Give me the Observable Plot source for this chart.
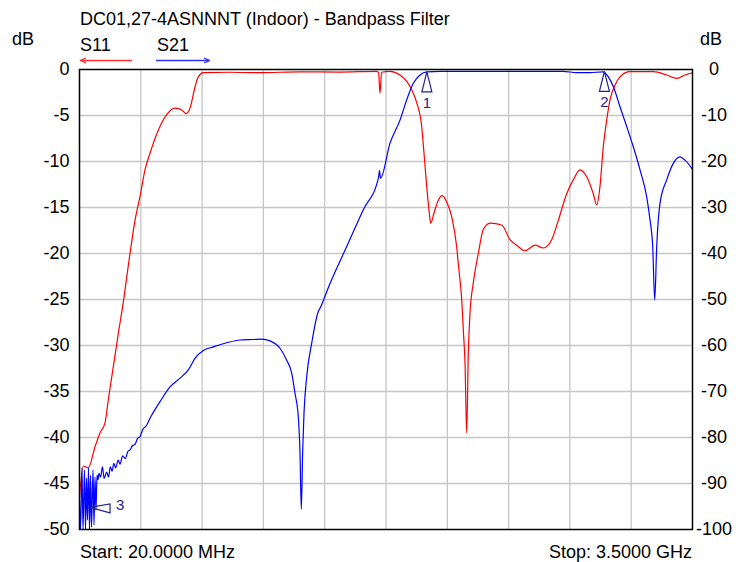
<!DOCTYPE html>
<html><head><meta charset="utf-8">
<script src="https://cdn.jsdelivr.net/npm/d3@7"></script>
<script src="https://cdn.jsdelivr.net/npm/@observablehq/plot@0.6"></script>
<style>html,body{margin:0;padding:0;background:#fff;}</style>
</head><body><div id="chart"></div>
<script>
// S11 (red, left axis, dB) — frequency in MHz
const s11Freq = [20, 41.6, 70, 108, 136.4, 164.8, 183.5, 211.9, 240.3, 267, 306.7, 335.1, 363.5, 391.8, 420.2, 467.3, 515, 562.1, 600.2, 624.6, 647.3, 675.7, 694.4, 722.8, 874.4, 1044.7, 1271.8, 1498.9, 1703.3, 1717.5, 1726, 1734.5, 1782.8, 1839.5, 1877.5, 1905.9, 1934.3, 1962.7, 1975.8, 1991.1, 2005.9, 2013.8, 2032.6, 2056.9, 2079.6, 2104.6, 2133, 2161.4, 2170.4, 2180.1, 2189.8, 2198.8, 2208.5, 2218.1, 2227.2, 2236.8, 2255.6, 2284, 2312.3, 2350.4, 2416.8, 2464, 2502, 2549.1, 2605.9, 2653, 2700.7, 2738.2, 2785.8, 2823.3, 2861.3, 2899.4, 2936.8, 2956.1, 2974.9, 2993.6, 3012.9, 3031.7, 3060.1, 3088.4, 3145.2, 3277.4, 3353.5, 3410.3, 3457.4, 3500];
const s11Db = [-46.5, -43.1, -43.3, -41, -39.5, -38.4, -35.9, -32.3, -28.7, -25.5, -20, -16.4, -13.8, -10.9, -9.1, -6.6, -4.9, -4.2, -4.4, -4.8, -4.2, -1.9, -0.8, -0.35, -0.3, -0.35, -0.25, -0.28, -0.2, -0.3, -2.6, -0.3, -0.2, -0.6, -1.3, -2.2, -3.6, -6.2, -9.1, -12.7, -15.6, -16.7, -15.6, -14.2, -13.7, -14.4, -16, -19.3, -21.1, -22.9, -25, -28.3, -31.9, -39.5, -30.8, -26.5, -23.2, -20, -17.4, -16.7, -16.9, -18.5, -19.1, -19.7, -19.1, -19.4, -18.5, -16.4, -13.5, -12, -10.9, -11.65, -13.5, -14.7, -12.7, -8.4, -5.5, -3.3, -1.7, -0.8, -0.24, -0.24, -0.6, -0.96, -0.6, -0.35];

// S21 (blue, right axis, dB)
const s21Freq = [20, 25.7, 34.2, 39.9, 48.4, 54.1, 59.7, 65.4, 71.1, 76.8, 82.4, 88.1, 96.6, 102.3, 108, 113.7, 119.3, 125, 130.7, 140, 150, 160, 174, 185, 195, 205, 215, 225, 240, 250, 265, 280, 295, 306.7, 320, 335, 350, 363.5, 380, 400, 420.2, 477, 533.8, 590.5, 637.6, 675.7, 722.8, 779.6, 855.7, 931.2, 1006.7, 1054.4, 1101.5, 1158.3, 1196.3, 1224.7, 1243.5, 1262.2, 1271.8, 1279.2, 1287.1, 1294.5, 1309.8, 1338.2, 1375.7, 1385.3, 1442.1, 1536.9, 1631.1, 1717.5, 1723.2, 1728.9, 1782.8, 1839.5, 1877.5, 1915, 1953, 1991.1, 2066.6, 2764.8, 2842.6, 2918, 2993.6, 3022, 3050.4, 3088.4, 3126.5, 3163.9, 3202, 3240, 3258.8, 3274.1, 3285.5, 3296.8, 3315.6, 3353.5, 3391, 3429, 3457.4, 3500];
const s21Db = [-93.6, -100, -86.6, -100, -87.1, -100, -88.8, -97.9, -86.6, -100, -88.2, -99.5, -87.1, -99, -88.6, -95.8, -88.2, -89.2, -87.8, -88.6, -86.4, -88.9, -87.5, -88.6, -86.4, -87.3, -85.6, -86.6, -84.9, -85.8, -84, -84.6, -83, -82.7, -81.8, -81.5, -80.2, -79.8, -78.2, -77.4, -75.8, -72.2, -69, -67.1, -65.3, -62.8, -61.1, -60.3, -59.4, -58.8, -58.7, -58.6, -59, -60.6, -63.2, -66, -70.4, -75.5, -83.4, -95.6, -82.7, -74.7, -66.8, -59.5, -52.6, -51.9, -46.5, -38.5, -30.5, -23.5, -22, -23.6, -16, -11, -6.6, -3, -1.2, -0.5, -0.4, -0.4, -0.7, -0.7, -0.5, -1.6, -3.7, -8.1, -12.4, -16.8, -21.8, -27.7, -32.7, -38.5, -50.1, -38.5, -29.1, -24, -20.4, -19, -19.7, -21.7];

// Markers on S21
const markerFreq = [1992, 3000, 80];
const markerDb = [-0.5, -0.4, -95.2];
const markerLabels = ["1", "2", "3"];

// Axes / grid
const gridFreqs = [368, 716, 1064, 1412, 1760, 2108, 2456, 2804, 3152];
const leftTicks = [0, -5, -10, -15, -20, -25, -30, -35, -40, -45, -50];
const rightTickLabels = ["0", "-10", "-20", "-30", "-40", "-50", "-60", "-70", "-80", "-90", "-100"];

const titleText = "DC01,27-4ASNNNT (Indoor) - Bandpass Filter";
const seriesNames = ["S11", "S21"];
const startText = "Start: 20.0000 MHz";
const stopText = "Stop: 3.5000 GHz";

const FONT = "'Liberation Sans', Arial, sans-serif";
const NAVY = "#23238c";

const s11 = s11Freq.map((f, i) => ({f, db: s11Db[i]}));
const s21 = s21Freq.map((f, i) => ({f, db: s21Db[i] / 2}));
const markers = markerFreq.map((f, i) => ({f, db: markerDb[i] / 2, label: markerLabels[i]}));
const upMarkers = markers.slice(0, 2);
const leftMarkers = markers.slice(2);

const triUp = {draw(ctx) { ctx.moveTo(0, 0); ctx.lineTo(-5, 20); ctx.lineTo(5, 20); ctx.closePath(); }};
const triLeft = {draw(ctx) { ctx.moveTo(0, 0); ctx.lineTo(20, -3.5); ctx.lineTo(20, 5.5); ctx.closePath(); }};

const chart = Plot.plot({
  width: 739, height: 562,
  marginLeft: 79, marginRight: 47, marginTop: 69, marginBottom: 33,
  style: {fontFamily: FONT, fontSize: "18px", color: "#000", background: "#fff", overflow: "visible"},
  x: {type: "linear", domain: [20, 3500], axis: null},
  y: {domain: [-50, 0], axis: null},
  marks: [
    Plot.gridX(gridFreqs, {stroke: "#c6c6c6", strokeOpacity: 1, strokeWidth: 1.3}),
    Plot.gridY(leftTicks.slice(1, -1), {stroke: "#c6c6c6", strokeOpacity: 1, strokeWidth: 1.3}),
    Plot.axisY(leftTicks, {anchor: "left", tickSize: 0, tickPadding: 10, fontSize: 18, label: null, tickFormat: d => String(d)}),
    Plot.axisY(leftTicks, {anchor: "right", tickSize: 0, tickPadding: 21.5, textAnchor: "middle", fontSize: 18, label: null, tickFormat: d => rightTickLabels[leftTicks.indexOf(d)]}),
    Plot.line(s11, {x: "f", y: "db", stroke: "#ff0000", strokeWidth: 1.2, curve: "monotone-x"}),
    Plot.line(s21, {x: "f", y: "db", stroke: "#0000ff", strokeWidth: 1.2, curve: "monotone-x"}),
    Plot.dot(upMarkers, {x: "f", y: "db", symbol: triUp, stroke: NAVY, fill: "none", strokeWidth: 1.2}),
    Plot.dot(leftMarkers, {x: "f", y: "db", symbol: triLeft, stroke: NAVY, fill: "none", strokeWidth: 1.2}),
    Plot.text(upMarkers, {x: "f", y: "db", text: "label", dy: 31, fill: NAVY, fontSize: 15}),
    Plot.text(leftMarkers, {x: "f", y: "db", text: "label", dx: 30, dy: -2, fill: NAVY, fontSize: 15}),
    Plot.frame({stroke: "#000", strokeWidth: 1.5})
  ]
});

const svg = d3.select(chart);
const ann = svg.append("g").attr("font-family", FONT).attr("font-size", 18).attr("fill", "#000").attr("text-anchor", "start");
ann.append("text").attr("x", 80).attr("y", 25).text(titleText);
ann.append("text").attr("x", 12).attr("y", 45).text("dB");
ann.append("text").attr("x", 700).attr("y", 45).text("dB");
ann.append("text").attr("x", 80).attr("y", 51).text(seriesNames[0]);
ann.append("text").attr("x", 157).attr("y", 51).text(seriesNames[1]);
ann.append("text").attr("x", 80).attr("y", 558).text(startText);
ann.append("text").attr("x", 692).attr("y", 558).attr("text-anchor", "end").text(stopText);
// legend arrows
const lg = svg.append("g").attr("fill", "none").attr("stroke-width", 1.3);
lg.append("path").attr("d", "M80,60.5H132M80,60.5l6,-2.5M80,60.5l6,2.5").attr("stroke", "#ff3030");
lg.append("path").attr("d", "M156,60.5H210M210,60.5l-6,-2.5M210,60.5l-6,2.5").attr("stroke", "#3030ff");

document.getElementById("chart").appendChild(chart);
</script>
</body></html>
